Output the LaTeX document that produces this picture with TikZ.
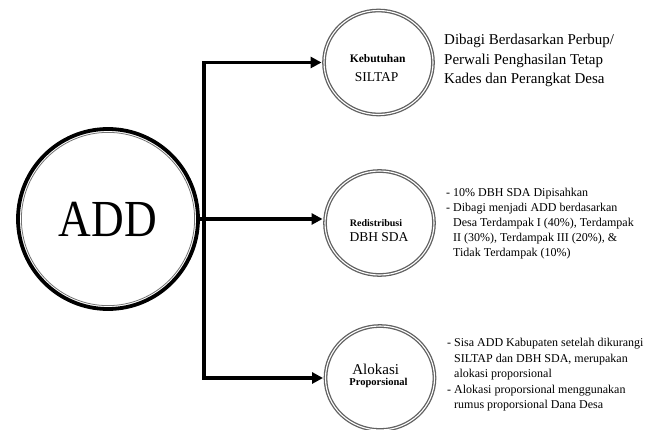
\documentclass[tikz,border=0pt]{standalone}
\usepackage{fontspec}
\setmainfont{Liberation Serif}
\usepackage{graphicx}
\usetikzlibrary{shapes.geometric,arrows.meta}
\begin{document}
\begin{tikzpicture}[x=1pt,y=-1pt,
  conn/.style={line width=3.8pt, -{Triangle[length=11pt,width=11pt]}, line join=miter, shorten >=1.8pt},
  sub/.style={ellipse, draw=black!62, double=white, double distance=1.1pt, line width=1.3pt,
    minimum width=109pt, minimum height=104pt, inner sep=0pt},
  smalllab/.style={font=\fontsize{10.5}{12}\selectfont\bfseries, inner sep=0pt, anchor=base},
  biglab/.style={font=\fontsize{13.5}{15}\selectfont, inner sep=0pt, anchor=base},
  desc/.style={anchor=north west, align=left, inner sep=0pt}
]
\useasboundingbox (0,0) rectangle (651,430);
\fill[white] (0,0) rectangle (651,430);

% main circle
\node[circle, draw, line width=3.8pt, minimum size=180pt, inner sep=0pt,
  font=\fontsize{52}{52}\selectfont] (add) at (108,219) {\scalebox{0.87}[1]{ADD}};
\draw[black!55, line width=0.8pt] (add.center) circle[radius=86.6pt];

% sub circles
\node[sub] (c1) at (378.5,62.5) {};
\node[sub] (c2) at (379.5,223) {};
\node[sub] (c3) at (380,378) {};

% labels in circles
\node[smalllab, font=\fontsize{11.5}{12}\selectfont\bfseries] (l1a) at (377.7,63) {Kebutuhan};
\node[biglab]   (l1b) at (376.7,82) {SILTAP};
\node[smalllab, font=\fontsize{10}{12}\selectfont\bfseries] (l2a) at (376,227) {Redistribusi};
\node[biglab]   (l2b) at (379,241.7) {DBH SDA};
\node[biglab, font=\fontsize{15}{16}\selectfont] (l3a) at (375.7,374) {Alokasi};
\node[smalllab] (l3b) at (378.5,386) {Proporsional};

% connectors
\coordinate (sp) at (203.7,0);
\draw[conn] (sp |- c3.west) |- (c1.west);
\draw[conn] (sp |- c1.west) |- (c3.west);
\draw[conn] (add.east) -- (add.east -| c2.west);

% descriptions
\node[desc, font=\fontsize{15}{19.5}\selectfont] (d1) at (444,34)
  {Dibagi Berdasarkan Perbup/\\Perwali Penghasilan Tetap\\Kades dan Perangkat Desa};
\node[desc, font=\fontsize{12}{15}\selectfont] (d2) at (446,188)
  {-\ 10\% DBH SDA Dipisahkan\\
   -\ Dibagi menjadi ADD berdasarkan\\
   \hphantom{-\ }Desa Terdampak I (40\%), Terdampak\\
   \hphantom{-\ }II (30\%), Terdampak III (20\%), \&\\
   \hphantom{-\ }Tidak Terdampak (10\%)};
\node[desc, font=\fontsize{12}{15.5}\selectfont] (d3) at (447,338)
  {-\ Sisa ADD Kabupaten setelah dikurangi\\
   \hphantom{-\ }SILTAP dan DBH SDA, merupakan\\
   \hphantom{-\ }alokasi proporsional\\
   -\ Alokasi proporsional menggunakan\\
   \hphantom{-\ }rumus proporsional Dana Desa};
\end{tikzpicture}
\end{document}
